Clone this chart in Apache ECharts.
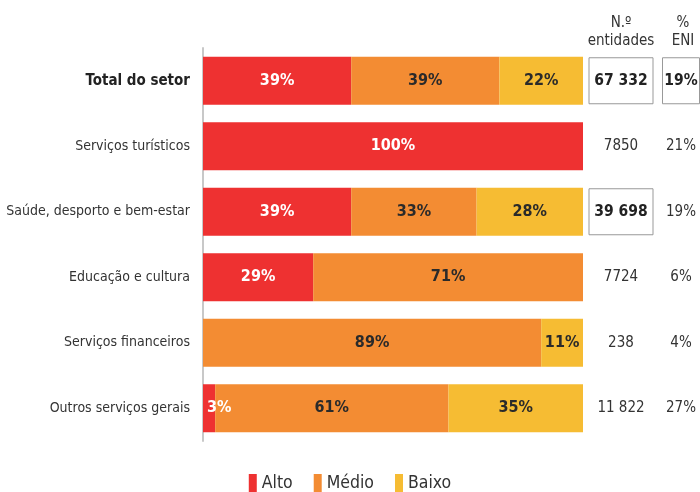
<!DOCTYPE html>
<html><head><meta charset="utf-8">
<script src="https://cdn.jsdelivr.net/npm/echarts@6/dist/echarts.min.js"></script>
<style>html,body{margin:0;padding:0;background:#fff}#c{width:700px;height:492px}</style>
</head><body><div id="c"></div>
<script>
var categories = ['Total do setor','Serviços turísticos','Saúde, desporto e bem-estar','Educação e cultura','Serviços financeiros','Outros serviços gerais'];
var alto  = [39, 100, 39, 29, 0, 3.2];
var medio = [39, 0, 33, 71, 89, 61.4];
var baixo = [22, 0, 28, 0, 11, 35.4];
var entidades = ['67 332','7850','39 698','7724','238','11 822'];
var eni = ['19%','21%','19%','6%','4%','27%'];
var boxedEntidades = [true,false,true,false,false,false];
var boxedEni = [true,false,false,false,false,false];
var seriesNames = ['Alto','Médio','Baixo'];
var colors = ['#EE3131','#F38C33','#F6BC33'];
var headerEnt = 'N.º\nentidades';
var headerEni = '%\nENI';

var FONT = '"Liberation Sans Narrow", "DejaVu Sans Condensed", sans-serif';
var chart = echarts.init(document.getElementById('c'), null, {renderer:'canvas'});

function mkSeries(name, data, color, labelColor){
  return {
    name: name, type:'bar', stack:'s', barWidth:48, yAxisIndex:0,
    itemStyle:{color:color},
    data: data.map(function(v,i){
      var d = {value:v};
      if (name==='Alto' && v>0 && v<6) d.label = {position:'insideLeft', distance:4};
      return d;
    }),
    label:{show:true, position:'inside', color:labelColor, fontFamily:FONT, fontWeight:'bold', fontSize:16,
      formatter:function(p){ return p.value>0 ? Math.round(p.value)+'%' : ''; }},
    emphasis:{disabled:true}
  };
}

var option = {
  animation:false,
  textStyle:{fontFamily:FONT},
  grid:{left:203, right:117, top:48, bottom:51, containLabel:false, outerBoundsMode:'none'},
  xAxis:{type:'value', min:0, max:100, show:false},
  yAxis:[
    {type:'category', data:categories, inverse:true,
     axisLine:{show:true, lineStyle:{color:'#c8c8c8', width:2}}, axisTick:{show:false},
     axisLabel:{margin:13, fontSize:14, color:'#333', fontFamily:FONT,
       formatter:function(v,i){ return i===0 ? '{b|'+v+'}' : v; },
       rich:{b:{fontWeight:'bold', fontSize:15, color:'#222', fontFamily:FONT}}}},
    {type:'category', data:entidades, inverse:true, position:'right',
     axisLine:{show:false}, axisTick:{show:false},
     axisLabel:{margin:38, align:'center', fontSize:15, color:'#333', fontFamily:FONT,
       formatter:function(v,i){ return boxedEntidades[i] ? '{bx|'+v+'}' : v; },
       rich:{bx:{fontWeight:'bold', fontSize:15.5, color:'#222', fontFamily:FONT, borderColor:'#999', borderWidth:1,
         width:64, height:46, lineHeight:46, align:'center', verticalAlign:'middle'}}}},
    {type:'category', data:eni, inverse:true, position:'right',
     axisLine:{show:false}, axisTick:{show:false},
     axisLabel:{margin:98, align:'center', fontSize:15, color:'#333', fontFamily:FONT,
       formatter:function(v,i){ return boxedEni[i] ? '{bx|'+v+'}' : v; },
       rich:{bx:{fontWeight:'bold', fontSize:15.5, color:'#222', fontFamily:FONT, borderColor:'#999', borderWidth:1,
         width:37, height:46, lineHeight:46, align:'center', verticalAlign:'middle'}}}}
  ],
  legend:{bottom:0, padding:0, left:'center', itemWidth:8, itemHeight:18, itemGap:21, icon:'rect',
    textStyle:{fontSize:17.5, color:'#333', fontFamily:FONT}, data:seriesNames},
  graphic:[
    {type:'text', left:621-40, top:14, style:{text:headerEnt, fill:'#333', font:'15px '+FONT, textAlign:'center', lineHeight:18, width:80}},
    {type:'text', left:683-20, top:14, style:{text:headerEni, fill:'#333', font:'15px '+FONT, textAlign:'center', lineHeight:18, width:40}}
  ],
  series:[
    mkSeries(seriesNames[0], alto, colors[0], '#fff'),
    mkSeries(seriesNames[1], medio, colors[1], '#2a2a2a'),
    mkSeries(seriesNames[2], baixo, colors[2], '#2a2a2a')
  ]
};
chart.setOption(option);
</script></body></html>
